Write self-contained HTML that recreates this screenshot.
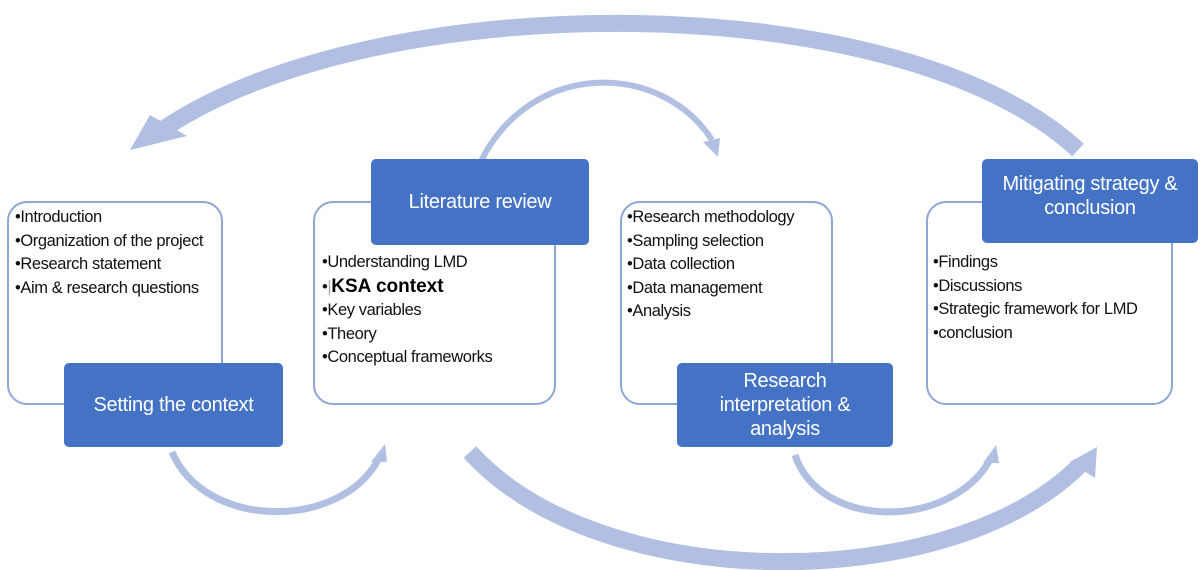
<!DOCTYPE html>
<html><head><meta charset="utf-8"><style>
body{margin:0;width:1202px;height:570px;background:#fff;position:relative;overflow:hidden;font-family:"Liberation Sans",sans-serif}
svg{position:absolute;left:0;top:0}
.w{position:absolute;border:2px solid #8fa6d6;border-radius:20px;background:#fff;box-sizing:border-box}
.b{position:absolute;background:#4472c4;border-radius:5px;color:#fff;display:flex;align-items:center;justify-content:center;text-align:center;font-size:20px;line-height:24px;letter-spacing:-0.3px}
.l{position:absolute;font-size:16.5px;line-height:23.5px;color:#111;letter-spacing:-0.4px;white-space:nowrap}
</style></head><body>
<svg width="1202" height="570" viewBox="0 0 1202 570">
<g fill="none" stroke="#b1bfe2" stroke-linecap="butt">
<path d="M1078 150 C 900 -15, 380 -15, 165 128" stroke-width="17"/>
<path d="M480 163 C 530 60, 660 60, 712 140" stroke-width="6"/>
<path d="M172 452 C 205 530, 340 530, 378 460" stroke-width="7"/>
<path d="M470 452 C 600 596, 950 596, 1080 465" stroke-width="17"/>
<path d="M795 455 C 820 530, 950 530, 990 460" stroke-width="7"/>
</g>
<g fill="#b1bfe2">
<polygon points="130,150 150,115 187,136"/>
<polygon points="718,157 703,142 720,138"/>
<polygon points="385,444 371,462 387,462"/>
<polygon points="1097,447 1070,462 1095,478"/>
<polygon points="996,445 983,463 999,463"/>
</g>
</svg>
<div class="w" style="left:7px;top:201px;width:216px;height:204px"></div>
<div class="w" style="left:313px;top:201px;width:243px;height:204px"></div>
<div class="w" style="left:620px;top:201px;width:213px;height:204px"></div>
<div class="w" style="left:926px;top:201px;width:247px;height:204px"></div>
<div class="l" style="left:15px;top:206px">•Introduction<br>•Organization of the project<br>•Research statement<br>•Aim &amp; research questions</div>
<div class="l" style="left:322px;top:251px">•Understanding LMD<br>•<span style="color:#aaa">|</span><b style="font-size:19px;color:#000;letter-spacing:0">KSA context</b><br>•Key variables<br>•Theory<br>•Conceptual frameworks</div>
<div class="l" style="left:627px;top:206px">•Research methodology<br>•Sampling selection<br>•Data collection<br>•Data management<br>•Analysis</div>
<div class="l" style="left:933px;top:251px">•Findings<br>•Discussions<br>•Strategic framework for LMD<br>•conclusion</div>
<div class="b" style="left:64px;top:363px;width:219px;height:84px">Setting the context</div>
<div class="b" style="left:371px;top:159px;width:218px;height:86px">Literature review</div>
<div class="b" style="left:677px;top:363px;width:216px;height:84px">Research<br>interpretation &amp;<br>analysis</div>
<div class="b" style="left:982px;top:159px;width:216px;height:84px;padding-bottom:10px;box-sizing:border-box">Mitigating strategy &amp;<br>conclusion</div>
</body></html>
